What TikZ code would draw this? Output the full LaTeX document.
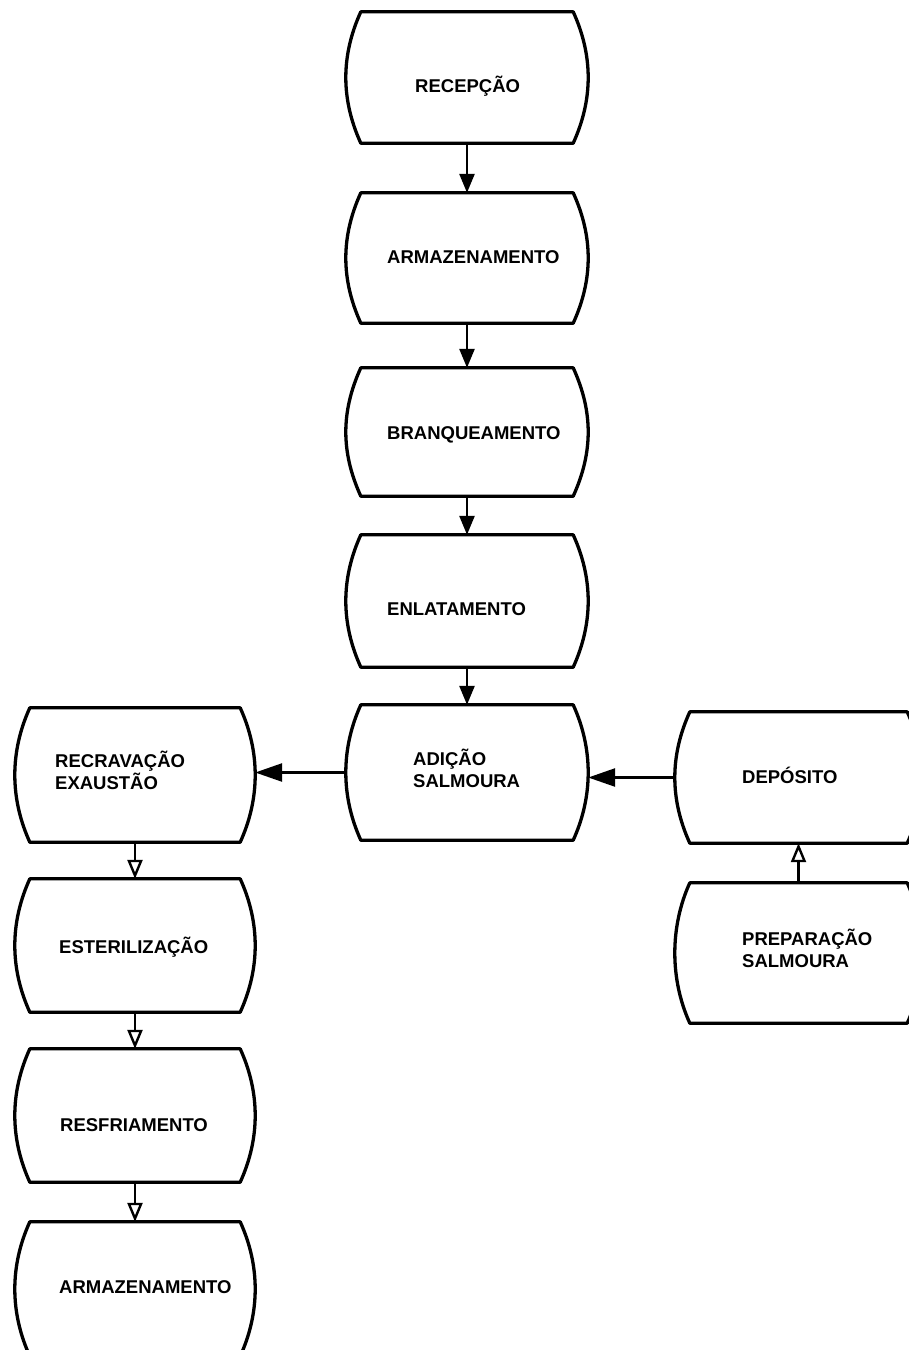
\documentclass[tikz,border=0pt]{standalone}
\usepackage{fontspec}
\setmainfont{Liberation Sans}
\usetikzlibrary{arrows.meta,calc}

\begin{document}
\begin{tikzpicture}[x=1pt,y=-1pt,
  box/.style={draw=none,inner sep=0pt,minimum width=242pt,minimum height=132pt},
  outline/.style={line width=3.3pt,line join=round},
  lbl/.style={anchor=west,inner sep=0pt,align=left,
    font=\fontsize{18.5}{22}\selectfont\bfseries},
  flow/.style={line width=2.6pt,-{Triangle[length=19pt,width=15pt]}},
  flowopen/.style={line width=2.6pt,-{Triangle[open,length=19pt,width=15pt,line width=2.4pt]}},
  side/.style={line width=2.6pt,-{Triangle[length=27pt,width=18pt]}}]

\useasboundingbox (0,0) rectangle (909,1350);
\clip (0,0) rectangle (909,1350);
\fill[white] (0,0) rectangle (909,1350);

% main column
\node[box,minimum height=131pt] (rec)  at (467,77.5)  {};
\node[box,minimum height=130pt] (arm)  at (467,258)   {};
\node[box,minimum height=128pt] (bra)  at (467,432)   {};
\node[box,minimum height=132pt] (enl)  at (467,601)   {};
\node[box,minimum height=135pt] (adi)  at (467,772.5) {};
% left column
\node[box,minimum width=240pt,minimum height=134pt] (rex)  at (135,775)    {};
\node[box,minimum width=240pt,minimum height=133pt] (est)  at (135,945.5)  {};
\node[box,minimum width=240pt,minimum height=133pt] (res)  at (135,1115.5) {};
\node[box,minimum width=240pt,minimum height=134pt] (arm2) at (135,1289)   {};
% right column
\node[box,minimum width=247pt,minimum height=131pt] (dep)  at (798.5,777.5) {};
\node[box,minimum width=247pt,minimum height=140pt] (pre)  at (798.5,953)   {};

% barrel outlines: straight top and bottom, sides bulging outward
\foreach \n in {rec,arm,bra,enl,adi,rex,est,res,arm2,dep,pre}{
  \draw[outline]
    ($(\n.north west)+(15,0)$) -- ($(\n.north east)+(-15,0)$)
    .. controls ($(\n.north east)+(5,44)$) and ($(\n.south east)+(5,-44)$) ..
    ($(\n.south east)+(-15,0)$) -- ($(\n.south west)+(15,0)$)
    .. controls ($(\n.south west)+(-5,-44)$) and ($(\n.north west)+(-5,44)$) ..
    cycle;
}

% labels
\node[lbl] (trec)  at (415,86)    {RECEPÇÃO};
\node[lbl] (tarm)  at (387,257)   {ARMAZENAMENTO};
\node[lbl] (tbra)  at (387,435)   {BRANQUEAMENTO};
\node[lbl] (tenl)  at (387,609)   {ENLATAMENTO};
\node[lbl] (tadi)  at (413,768.5) {ADIÇÃO\\SALMOURA};
\node[lbl] (trex)  at (55,770)    {RECRAVAÇÃO\\EXAUSTÃO};
\node[lbl] (test)  at (59,947)    {ESTERILIZAÇÃO};
\node[lbl] (tres)  at (60,1125)   {RESFRIAMENTO};
\node[lbl] (tarm2) at (59,1287)   {ARMAZENAMENTO};
\node[lbl] (tdep)  at (742,775)   {DEPÓSITO};
\node[lbl] (tpre)  at (742,948)   {PREPARAÇÃO\\SALMOURA};

% connectors
\draw[flow] (rec.south) -- (arm.north);
\draw[flow] (arm.south) -- (bra.north);
\draw[flow] (bra.south) -- (enl.north);
\draw[flow] (enl.south) -- (adi.north);
\draw[side] (adi.west) -- (adi.west -| rex.east);
\draw[side] (dep.west) -- (dep.west -| adi.east);
\draw[flowopen] (rex.south) -- (est.north);
\draw[flowopen] (est.south) -- (res.north);
\draw[flowopen] (res.south) -- (arm2.north);
\draw[flowopen] (pre.north) -- (dep.south);
\end{tikzpicture}
\end{document}
